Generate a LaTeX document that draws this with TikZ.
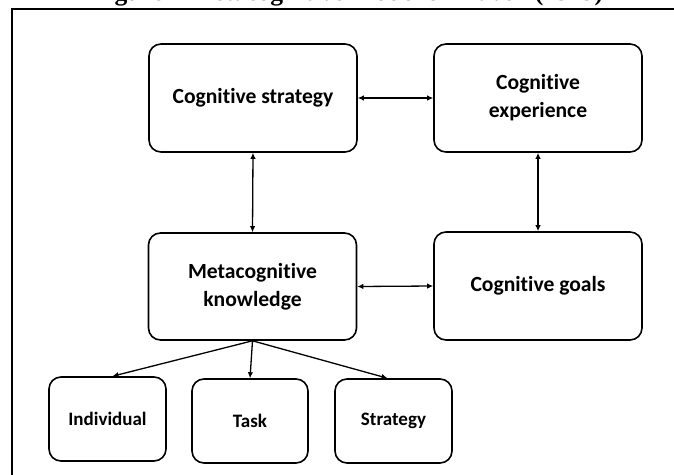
\documentclass[tikz,border=0pt]{standalone}
\usepackage{fontspec}
\setmainfont{Carlito}[Ligatures=NoCommon]
\newfontfamily\titlefont{Liberation Serif}
\usetikzlibrary{arrows.meta}
\begin{document}
\begin{tikzpicture}[x=1pt,y=-1pt,
  box/.style={draw, line width=1.6pt, rounded corners=12pt, align=center,
    inner sep=0pt, font=\fontsize{21.6}{28}\selectfont\bfseries},
  bigbox/.style={box, minimum width=208pt, minimum height=108pt},
  smallbox/.style={box, minimum width=117pt, minimum height=84pt,
    font=\fontsize{19}{23}\selectfont\bfseries},
  link/.style={line width=1.3pt, {Latex[length=6pt,width=5.5pt]}-{Latex[length=6pt,width=5.5pt]}},
  onelink/.style={line width=1.3pt, -{Latex[length=6pt,width=5.5pt]}}
]
\useasboundingbox (0,0) rectangle (674,474);
\clip (0,0) rectangle (674,474);
\fill[white] (0,0) rectangle (674,474);
% cut-off title
\node[anchor=base, inner sep=0pt, font=\titlefont\bfseries\fontsize{25.6}{30}\selectfont] (title) at (347.5,0.5) {Figure 1 Metacognitive Model of Flavell (1979)};
% frame
\draw[line width=1.5pt] (12,480) -- (12,9) -- (680,9);
% boxes
\node[bigbox] (cs) at (253,98) {Cognitive strategy};
\node[bigbox] (ce) at (538,98) {Cognitive\\experience};
\node[bigbox, minimum height=107pt] (mk) at (252.5,286.5) {Metacognitive\\knowledge};
\node[bigbox] (cg) at (538,286) {Cognitive goals};
\node[smallbox] (ind) at (107.5,419) {Individual};
\node[smallbox, minimum width=116pt] (task) at (250,421) {Task};
\node[smallbox] (str) at (393.5,421) {Strategy};
% connectors
\draw[link] (cs.east) -- (ce.west);
\draw[link] (cs.south) -- (mk.north);
\draw[link] (ce.south) -- (cg.north);
\draw[link] (mk.east) -- (cg.west);
\draw[onelink] (mk.south) -- ([xshift=5pt]ind.north);
\draw[onelink] (mk.south) -- (task.north);
\draw[onelink] (mk.south) -- ([xshift=-6pt]str.north);
\end{tikzpicture}
\end{document}
